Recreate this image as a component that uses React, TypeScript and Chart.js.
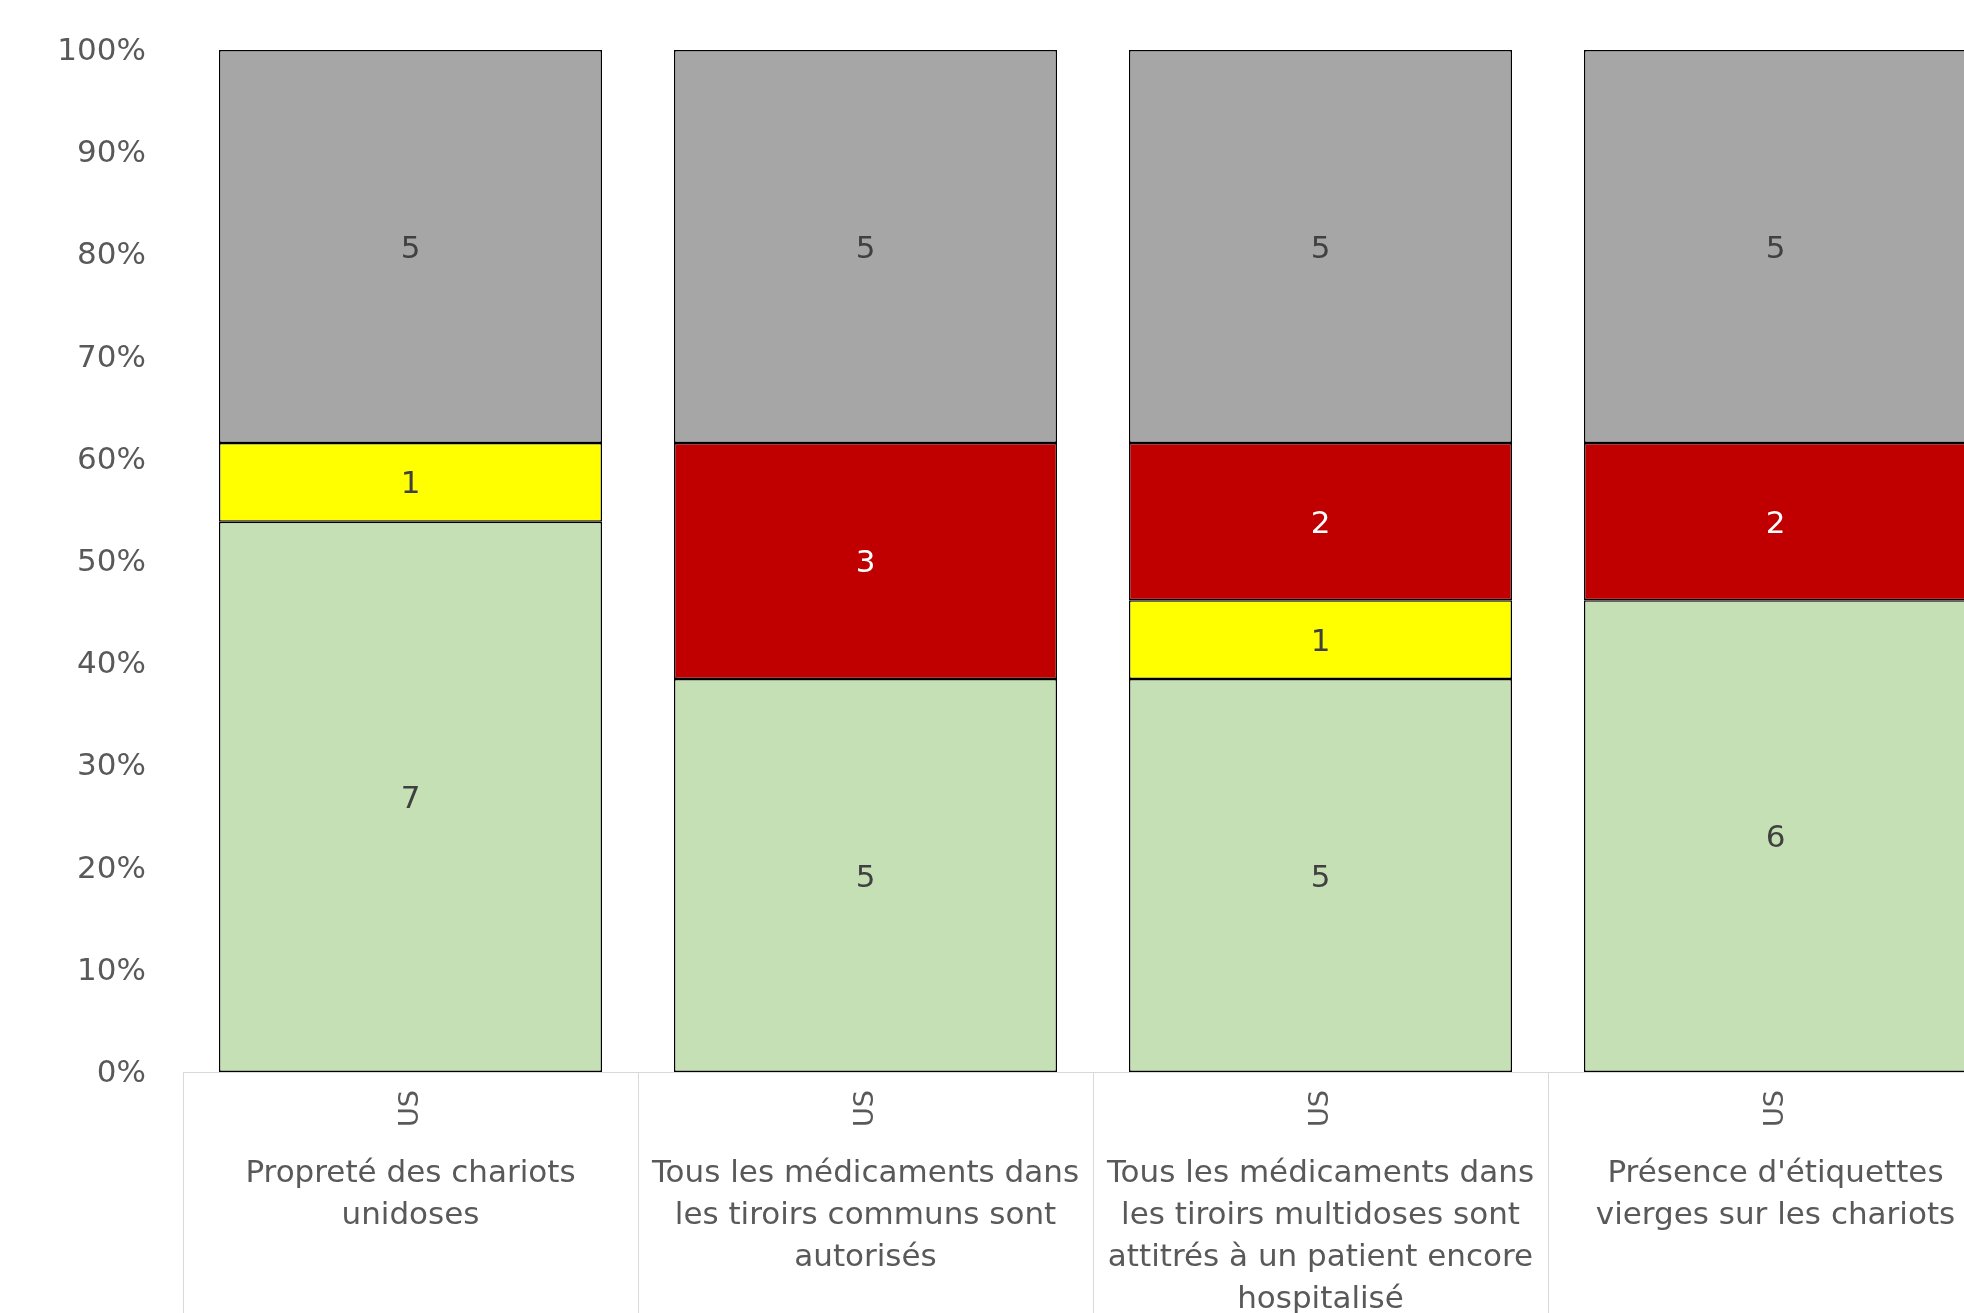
import React, { useEffect, useRef } from "react";
import { Chart, registerables } from "chart.js";

Chart.register(...registerables);

// ---- Data ----
const categoryLabels: string[][] = [
  ["Propreté des chariots", "unidoses"],
  ["Tous les médicaments dans", "les tiroirs communs sont", "autorisés"],
  ["Tous les médicaments dans", "les tiroirs multidoses sont", "attitrés à un patient encore", "hospitalisé"],
  ["Présence d'étiquettes", "vierges sur les chariots"],
];
const unitLabels = ["US", "US", "US", "US"];

const conformeCounts = [7, 5, 5, 6];
const partielCounts = [1, 0, 1, 0];
const nonConformeCounts = [0, 3, 2, 2];
const nonEvalueCounts = [5, 5, 5, 5];

const seriesNames = ["Conforme", "Partiellement conforme", "Non conforme", "Non évalué"];
const seriesColors = ["#C5E0B4", "#FFFF00", "#C00000", "#A6A6A6"];
const labelColors = ["#404040", "#404040", "#FFFFFF", "#404040"];

const FONT = "'DejaVu Sans', sans-serif";

const allCounts = [conformeCounts, partielCounts, nonConformeCounts, nonEvalueCounts];
const totals = conformeCounts.map((_, i) => allCounts.reduce((s, arr) => s + arr[i], 0));

const separatorPlugin = {
  id: "separators",
  afterDraw(chart: any) {
    const xs = chart.scales.x;
    const ctx = chart.ctx;
    const n = xs.ticks.length;
    const step = n > 1 ? xs.getPixelForValue(1) - xs.getPixelForValue(0) : xs.width;
    const start = xs.getPixelForValue(0) - step / 2;
    ctx.save();
    ctx.strokeStyle = "#D9D9D9";
    ctx.lineWidth = 1;
    for (let i = 0; i <= n; i++) {
      const px = Math.round(start + i * step) + 0.5;
      ctx.beginPath();
      ctx.moveTo(px, chart.chartArea.bottom);
      ctx.lineTo(px, chart.height);
      ctx.stroke();
    }
    ctx.restore();
  },
};

const dataLabelPlugin = {
  id: "segmentLabels",
  afterDatasetsDraw(chart: any) {
    const ctx = chart.ctx;
    ctx.save();
    ctx.font = `31px ${FONT}`;
    ctx.textAlign = "center";
    ctx.textBaseline = "middle";
    chart.data.datasets.forEach((ds: any, di: number) => {
      const meta = chart.getDatasetMeta(di);
      meta.data.forEach((el: any, i: number) => {
        const count = ds.counts[i];
        if (!count) return;
        const { x, y, base } = el.getProps(["x", "y", "base"], true);
        ctx.fillStyle = ds.labelColor;
        ctx.fillText(String(count), x, (y + base) / 2 + 3);
      });
    });
    ctx.restore();
  },
};

export default function App() {
  const canvasRef = useRef<HTMLCanvasElement | null>(null);

  useEffect(() => {
    if (!canvasRef.current) return;
    const datasets = allCounts.map((counts, di) => ({
      label: seriesNames[di],
      data: counts.map((c, i) => (c / totals[i]) * 100),
      counts,
      labelColor: labelColors[di],
      backgroundColor: seriesColors[di],
      borderColor: "#000000",
      borderWidth: 1.5,
      borderSkipped: false,
      barPercentage: 1,
      categoryPercentage: 0.842,
    }));

    const chart = new Chart(canvasRef.current, {
      type: "bar",
      data: { labels: unitLabels, datasets: datasets as any },
      options: {
        responsive: false,
        animation: false,
        devicePixelRatio: 1,
        layout: { padding: { top: 50, left: 8, right: 17, bottom: 0 } },
        plugins: { legend: { display: false }, tooltip: { enabled: false } },
        scales: {
          x: {
            type: "category",
            stacked: true,
            offset: true,
            labels: unitLabels,
            grid: { display: false, drawTicks: false, offset: true },
            border: { display: true, color: "#D9D9D9", width: 1 },
            ticks: {
              autoSkip: false,
              minRotation: 90,
              maxRotation: 90,
              padding: 18,
              color: "#595959",
              font: { family: FONT, size: 27 },
            },
            afterFit: (s: any) => {
              s.height = 72;
            },
          },
          y: {
            stacked: true,
            min: 0,
            max: 100,
            grid: { display: false, drawTicks: true, tickLength: 37 },
            border: { display: false },
            ticks: {
              stepSize: 10,
              padding: 0,
              labelOffset: 2,
              color: "#595959",
              font: { family: FONT, size: 31 },
              callback: (v: any) => `${v}%`,
            },
            afterFit: (s: any) => {
              s.width = 175;
            },
          },
          x2: {
            type: "category",
            position: "bottom",
            offset: true,
            labels: categoryLabels as any,
            grid: { display: false, drawTicks: false, offset: true },
            border: { display: false },
            ticks: {
              autoSkip: false,
              minRotation: 0,
              maxRotation: 0,
              padding: 9,
              color: "#595959",
              font: { family: FONT, size: 31, lineHeight: 1.35 },
            },
            afterFit: (s: any) => {
              s.height = 300;
            },
          },
        } as any,
      },
      plugins: [separatorPlugin, dataLabelPlugin],
    });
    return () => chart.destroy();
  }, []);

  return (
    <div
      style={{
        position: "fixed",
        left: 0,
        top: 0,
        width: 1964,
        height: 1313,
        overflow: "hidden",
        background: "#FFFFFF",
      }}
    >
      <canvas ref={canvasRef} width={2020} height={1444} style={{ display: "block" }} />
    </div>
  );
}
